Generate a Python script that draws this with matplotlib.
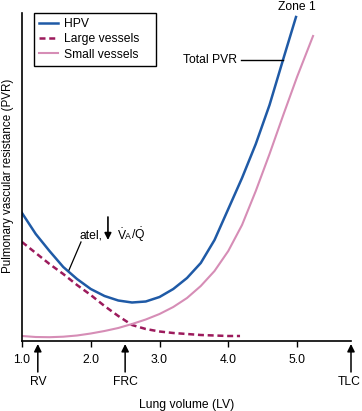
import matplotlib
matplotlib.use("Agg")
import matplotlib.pyplot as plt

plt.rcParams['font.family'] = ['Liberation Sans', 'DejaVu Sans']
plt.rcParams['mathtext.fontset'] = 'custom'
plt.rcParams['mathtext.rm'] = 'Liberation Sans'
plt.rcParams['mathtext.it'] = 'Liberation Sans'

# ---- data ----
hpv_x = [1.0, 1.2, 1.4, 1.6, 1.8, 2.0, 2.2, 2.4, 2.6, 2.8, 3.0, 3.2, 3.4, 3.6, 3.8, 4.0, 4.2, 4.4, 4.6, 4.8, 4.985]
hpv_y = [128, 107, 90, 74, 62, 52, 45, 40.5, 38.5, 39.5, 44, 52, 63, 78, 101, 132, 163, 197, 236, 282, 324]

large_x = [1.0, 1.2, 1.4, 1.6, 1.8, 2.0, 2.2, 2.4, 2.6, 2.8, 3.0, 3.2, 3.4, 3.6, 3.8, 4.0, 4.171]
large_y = [99, 88, 77, 67, 56, 46, 35, 25, 16, 12, 9.5, 8, 7, 6, 5.5, 5, 5]

small_x = [1.0, 1.2, 1.4, 1.6, 1.8, 2.0, 2.2, 2.4, 2.6, 2.8, 3.0, 3.2, 3.4, 3.6, 3.8, 4.0, 4.2, 4.4, 4.6, 4.8, 5.0, 5.233]
small_y = [5, 4, 3.8, 4.3, 5.5, 7.5, 10, 13, 17, 21.5, 27, 34, 43, 55, 70, 90, 116, 150, 187, 226, 264, 305]

tick_vals = [1.0, 2.0, 3.0, 4.0, 5.0]
tick_labels = ['1.0', '2.0', '3.0', '4.0', '5.0']
marker_x = [1.23, 2.5, 5.785]
marker_labels = ['RV', 'FRC', 'TLC']

c_blue = '#1f5aa6'
c_large = '#9c1a5c'
c_small = '#d68db6'
fs = 8.75

fig = plt.figure(figsize=(3.62, 4.11), dpi=100)
ax = fig.add_axes([22/362, 70/411, 329/362, 328/411])
ax.set_xlim(1.0, 5.785)
ax.set_ylim(0, 328)

ax.plot(hpv_x, hpv_y, color=c_blue, lw=1.8, label='HPV')
ax.plot(large_x, large_y, color=c_large, lw=1.8, ls=(0, (2.4, 1.5)), label='Large vessels')
ax.plot(small_x, small_y, color=c_small, lw=1.5, label='Small vessels')

for s in ['top', 'right']:
    ax.spines[s].set_visible(False)
for s in ['left', 'bottom']:
    ax.spines[s].set_linewidth(1.2)
ax.set_yticks([])
ax.set_xticks(tick_vals)
ax.set_xticklabels(tick_labels, fontsize=fs)
ax.tick_params(axis='x', direction='out', length=4, width=1, pad=5)

leg = ax.legend(loc='upper left', bbox_to_anchor=(12/329, 0.5, 122/329, 0.5), mode='expand',
                borderaxespad=0, fontsize=fs, frameon=True, fancybox=False, framealpha=1,
                edgecolor='black', handlelength=1.6, handletextpad=0.5,
                labelspacing=0.28, borderpad=0.4)
leg.get_frame().set_linewidth(1.0)

# arrows under the axis
for xv, lab in zip(marker_x, marker_labels):
    ax.annotate('', xy=(xv, -3), xytext=(xv, -31), annotation_clip=False,
                arrowprops=dict(arrowstyle='-|>', color='black', lw=1.1, mutation_scale=11,
                                shrinkA=0, shrinkB=0))
ax.text(marker_x[0], -41, marker_labels[0], ha='center', va='center', fontsize=fs, clip_on=False)
ax.text(marker_x[1], -41, marker_labels[1], ha='center', va='center', fontsize=fs, clip_on=False)
ax.text(marker_x[2] - 0.02, -41, marker_labels[2], ha='center', va='center', fontsize=fs, clip_on=False)

ax.text(3.4, -64, 'Lung volume (LV)', ha='center', va='center', fontsize=fs, clip_on=False)
ax.text(1.0 - 14/68.75, 165, 'Pulmonary vascular resistance (PVR)', rotation=90,
        ha='center', va='center', fontsize=8.4, clip_on=False)

# annotations
ax.text(5.0, 334, 'Zone 1', ha='center', va='center', fontsize=fs, clip_on=False)
ax.text(3.73, 281, 'Total PVR', ha='center', va='center', fontsize=fs)
ax.plot([4.185, 4.79], [281, 281], color='black', lw=1.0)

ax.text(2.01, 106, 'atel,', ha='center', va='center', fontsize=fs)
ax.annotate('', xy=(2.25, 101), xytext=(2.25, 124),
            arrowprops=dict(arrowstyle='-|>', color='black', lw=1.2, mutation_scale=10,
                            shrinkA=0, shrinkB=0))
ax.text(2.375, 106, r'$\dot{\mathrm{V}}$', ha='left', va='center', fontsize=fs)
ax.text(2.50, 104.5, 'A', ha='left', va='center', fontsize=fs*0.72)
ax.text(2.59, 106, r'/$\dot{\mathrm{Q}}$', ha='left', va='center', fontsize=fs)
ax.plot([1.858, 1.684], [99, 71], color='black', lw=0.9)

fig.savefig('out.png', dpi=100)
